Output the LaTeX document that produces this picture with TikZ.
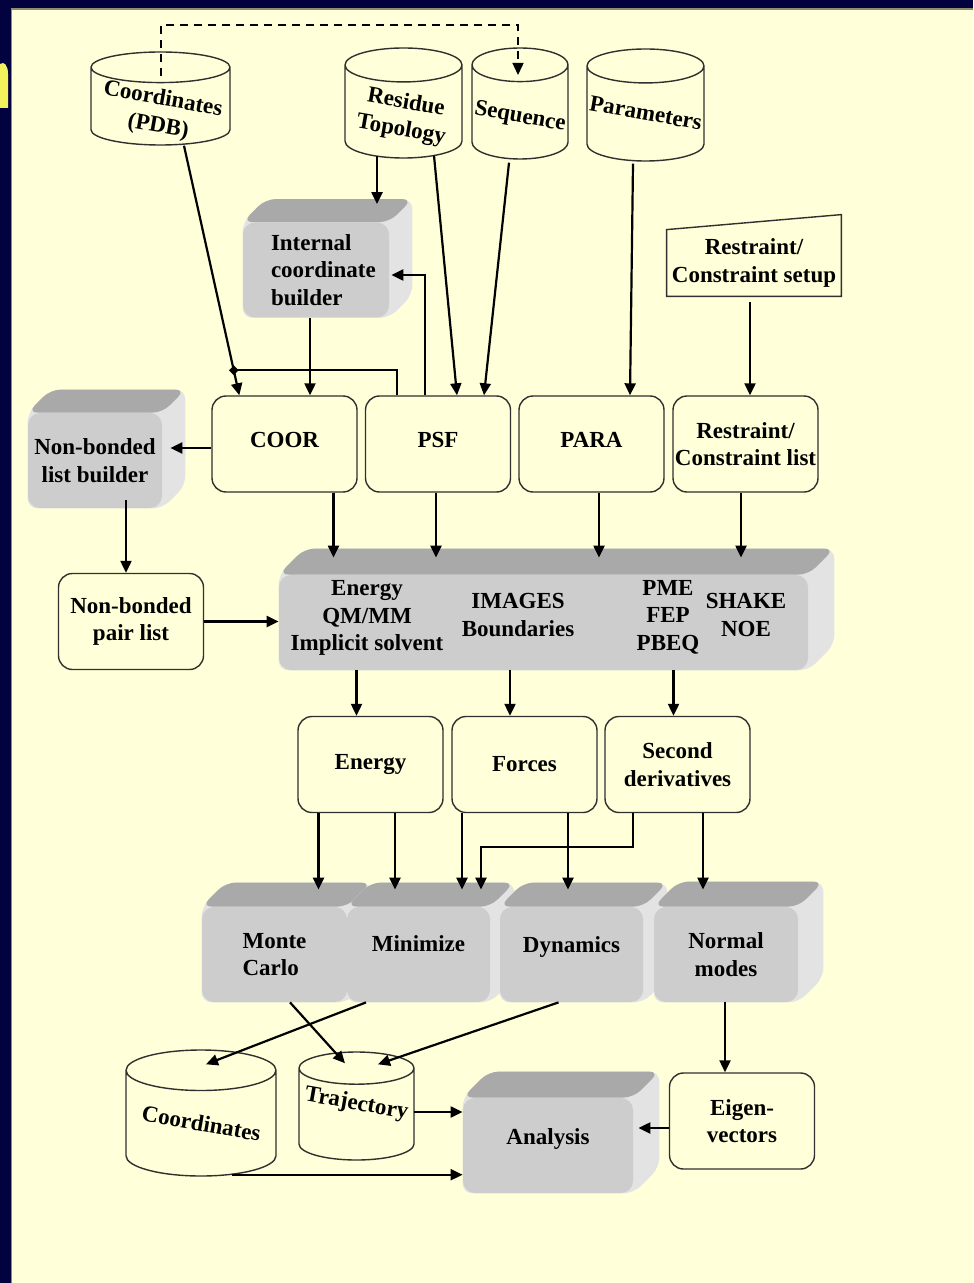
\documentclass[tikz,border=0pt]{standalone}
\usepackage{fontspec}
\setmainfont{Liberation Serif}
\usetikzlibrary{arrows.meta, calc, shapes.geometric, backgrounds}

\pgfdeclarelayer{canvas}
\pgfsetlayers{canvas,background,main}

\definecolor{paper}{HTML}{FFFFD9}
\definecolor{navy}{HTML}{02023F}
\definecolor{rimcol}{HTML}{8E8E6A}
\definecolor{titlecol}{HTML}{F2F25C}
\definecolor{frontgray}{HTML}{CDCDCD}
\definecolor{topgray}{HTML}{A9A9A9}
\definecolor{sidegray}{HTML}{E3E3E3}
\definecolor{edgecol}{HTML}{303030}

\tikzset{every node/.style={font=\bfseries\fontsize{11.5pt}{13.75pt}\selectfont}}
\tikzset{
  proc/.style={draw=edgecol, line width=0.7pt, rounded corners=7pt, fill=paper,
    minimum width=72.5pt, minimum height=48pt, inner sep=0pt, align=center},
  db/.style={cylinder, shape border rotate=90, aspect=0.28, draw=edgecol,
    line width=0.7pt, fill=paper, inner sep=0pt, anchor=shape center},
  box3d/.style={fill=frontgray, rounded corners=6pt, minimum height=47.5pt,
    inner sep=0pt, align=center},
  inbox/.style={minimum width=87pt, minimum height=33pt, inner sep=0pt, align=center},
  arr/.style={-{Triangle[length=6pt,width=5.5pt]}, line width=1.1pt},
  wire/.style={line width=1.1pt},
  jdot/.style={diamond, fill, inner sep=0pt, minimum size=5pt}
}

% tilted text inside a data store: [lowering]{width}{lines}
\newcommand{\dbtext}[3][-5pt]{\makebox[#2]{\raisebox{#1}[0pt][0pt]{\rotatebox[origin=c]{-10}{\begin{tabular}{@{}c@{}}#3\end{tabular}}}}}
% one line of text set a little higher
\newcommand{\lift}[2]{\raisebox{#1}[\height][\depth]{#2}}

% top and side faces of a grey block
\newcommand{\boxback}[2]{%
  \fill[sidegray, rounded corners=5pt] (#1.north west) -- ++(#2,-#2)
    -- ($(#1.north east)+(#2,-#2)$) -- ($(#1.south east)+(#2,-#2)$)
    -- (#1.south east) -- (#1.south west) -- cycle;
  \fill[topgray, rounded corners=5pt] (#1.north west) -- ++(#2,-#2)
    -- ($(#1.north east)+(#2,-#2)$) -- (#1.north east) -- cycle;
}

\begin{document}
\begin{tikzpicture}[x=0.5pt, y=-0.5pt]
  \path[use as bounding box] (0,0) rectangle (973,1283);

  % Slide frame.
  \begin{pgfonlayer}{canvas}
    \fill[paper] (0,0) rectangle (973,1283);
    \fill[navy] (0,0) rectangle (973,8);
    \fill[navy] (0,0) rectangle (11,1283);
    \draw[rimcol, line width=0.6pt] (11.5,1283) -- (11.5,9) -- (973,9);
    \fill[titlecol] (0,64) .. controls (4,61) and (8,65) .. (8,74) -- (8,108) -- (0,108) -- cycle;
  \end{pgfonlayer}

  % Data stores.
  \node[db, aspect=0.22, minimum width=69.5pt, minimum height=46.5pt] (pdb) at (160.5,98.5) {\dbtext[-6.5pt]{69.5pt}{Coordinates\\(PDB)}};
  \node[db, aspect=0.29, minimum width=58.5pt, minimum height=55pt] (topo) at (403.5,103) {\dbtext[-5.5pt]{58.5pt}{Residue\\Topology}};
  \node[db, aspect=0.35, minimum width=48pt, minimum height=55.5pt] (seq) at (520,103.5) {\dbtext[-5.5pt]{48pt}{Sequence}};
  \node[db, aspect=0.29, minimum width=58.5pt, minimum height=56pt] (params) at (645.5,105) {\dbtext[-3.5pt]{58.5pt}{Parameters}};
  \node[db, aspect=0.27, minimum width=75pt, minimum height=63pt] (coords) at (201,1113) {\dbtext[-4pt]{75pt}{Coordinates}};
  \node[db, aspect=0.28, minimum width=57.5pt, minimum height=54pt] (traj) at (356.5,1106) {\dbtext[2pt]{57.5pt}{Trajectory}};

  % Manual input.
  \node[inbox] (setup) at (754,263) {Restraint/\\Constraint setup};
  \draw[draw=edgecol, line width=0.7pt] (setup.south west) -- (setup.south east)
    -- ($(setup.north east)+(0,-15)$) -- (setup.north west) -- cycle;

  % Data boxes.
  \node[proc] (coor) at (284.5,444) {\lift{2pt}{COOR}};
  \node[proc] (psf) at (438,444) {\lift{2pt}{PSF}};
  \node[proc] (para) at (591.5,444) {\lift{2pt}{PARA}};
  \node[proc] (rlist) at (745.5,444) {Restraint/\\Constraint list};
  \node[proc] (pairlist) at (131,621.5) {Non-bonded\\pair list};
  \node[proc] (energy) at (370.5,764.5) {Energy};
  \node[proc] (forces) at (524.5,764.5) {Forces};
  \node[proc] (second) at (677.5,764.5) {Second\\derivatives};
  \node[proc] (eigen) at (742,1121) {Eigen-\\vectors};

  % Grey blocks.
  \node[box3d, minimum width=73pt, text width=45pt, align=left] (icb) at (316,270) {Internal\\coordinate\\builder};
  \node[box3d, minimum width=67pt] (nblb) at (95,460.5) {Non-bonded\\list builder};
  \node[box3d, minimum width=264.5pt] (ebox) at (543.5,622.5) {};
  \node[box3d, minimum width=72.5pt, align=left] (mc) at (274.5,954.5) {Monte\\Carlo};
  \node[box3d, minimum width=71.5pt] (mini) at (418.5,954.5) {\lift{5.5pt}{Minimize}};
  \node[box3d, minimum width=71.5pt] (dyn) at (571.5,954.5) {\lift{4pt}{Dynamics}};
  \node[box3d, minimum width=72pt] (nm) at (726,954.5) {Normal\\modes};
  \node[box3d, minimum width=85pt] (ana) at (548,1145.5) {\lift{3.5pt}{Analysis}};

  \node[align=center] (ebt1) at (367,618) {Energy\\QM/MM\\Implicit solvent};
  \node[align=center] (ebt2) at (518,615) {IMAGES\\Boundaries};
  \node[align=center] (ebt3) at (668,617) {PME\\FEP\\PBEQ};
  \node[align=center] (ebt4) at (746,615) {SHAKE\\NOE};

  \begin{scope}[on background layer]
    \boxback{icb}{23}
    \boxback{nblb}{23}
    \boxback{ebox}{26}
    \boxback{mc}{24}
    \boxback{mini}{24}
    \boxback{dyn}{24}
    \boxback{nm}{25}
    \boxback{ana}{26}
  \end{scope}

  % Inputs.
  \draw[arr, dash pattern=on 4pt off 3pt, line width=0.75pt] ($(pdb.shape center)+(0.5,-22.5)$) -- ++(0,-51)
    -| ($(seq.shape center)+(-2,-28.5)$);
  \coordinate (pdbout) at ($(pdb.south)+(23.5,0)$);
  \coordinate (coorin) at ($(coor.north west)+(28,0)$);
  \coordinate (jn) at ($(pdbout)!0.9!(coorin)$);
  \draw[arr] (pdbout) -- (coorin);
  \draw[wire] ($(psf.north west)+(32,0)$) |- (jn);
  \node[jdot] (joint) at (jn) {};
  \draw[arr] ($(topo.south)+(-26.5,-3)$) -- ($(icb.north)+(61,-18)$);
  \draw[arr] ($(topo.south)+(30.5,-3)$) -- ($(psf.north)+(19,0)$);
  \draw[arr] ($(seq.south)+(-11,3)$) -- ($(psf.north)+(46,0)$);
  \draw[arr] ($(params.south)+(-12.5,2)$) -- ($(para.north)+(38.5,0)$);
  \draw[arr] ($(setup.south)+(-4,6)$) -- ($(rlist.north)+(4.5,0)$);
  \draw[arr] ($(psf.north west)+(60,0)$) |- ($(icb.east)+(2,5)$);
  \draw[arr] ($(icb.south)+(-6,0)$) -- ($(coor.north)+(25.5,0)$);
  \draw[arr] ($(coor.west)+(0,4)$) -- ($(nblb.east)+(8,-12.5)$);
  \draw[arr] ($(nblb.south)+(31,-8)$) -- ($(pairlist.north)+(-5,0)$);
  \draw[arr] (pairlist.east) -- (pairlist.east -| ebox.west);

  % Into the energy block.
  \coordinate (etop) at ($(ebox.north)+(0,-17)$);
  \coordinate (c1) at ($(coor.south)+(49,0)$);
  \coordinate (c2) at ($(psf.south)+(-2,0)$);
  \coordinate (c3) at ($(para.south)+(7.5,0)$);
  \coordinate (c4) at ($(rlist.south)+(-4.5,0)$);
  \draw[arr] (c1) -- (c1 |- etop);
  \draw[arr] (c2) -- (c2 |- etop);
  \draw[arr] (c3) -- (c3 |- etop);
  \draw[arr] (c4) -- (c4 |- etop);

  % Out of the energy block.
  \coordinate (e1) at ($(energy.north)+(-14,0)$);
  \coordinate (e2) at ($(forces.north)+(-14.5,0)$);
  \coordinate (e3) at ($(second.north)+(-4,0)$);
  \draw[arr] (ebox.south -| e1) -- (e1);
  \draw[arr] (ebox.south -| e2) -- (e2);
  \draw[arr] (ebox.south -| e3) -- (e3);

  % Into the methods.
  \coordinate (t1) at ($(mc.north)+(44,-17)$);
  \coordinate (t2) at ($(mini.north)+(-23.5,-17)$);
  \coordinate (t3) at ($(mini.north)+(43.5,-17)$);
  \coordinate (t4) at ($(mini.north)+(62.5,-17)$);
  \coordinate (t5) at ($(dyn.north)+(-3.5,-17)$);
  \coordinate (t6) at ($(nm.north)+(-23,-17)$);
  \draw[arr] (energy.south -| t1) -- (t1);
  \draw[arr] (energy.south -| t2) -- (t2);
  \draw[arr] (forces.south -| t3) -- (t3);
  \draw[arr] (forces.south -| t5) -- (t5);
  \draw[arr] ($(second.south)+(-44.5,0)$) -- ++(0,34) -| (t4);
  \draw[arr] (second.south -| t6) -- (t6);

  % Results.
  \draw[arr] ($(mc.south)+(15.5,0)$) -- ($(traj.north)+(-11.5,12)$);
  \draw[arr] ($(mini.south)+(-52.5,0)$) -- ($(coords.north)+(5,15)$);
  \draw[arr] ($(dyn.south)+(-13,0)$) -- ($(traj.north)+(21.5,13)$);
  \coordinate (v1) at ($(eigen.north)+(-17,0)$);
  \draw[arr] (nm.south -| v1) -- (v1);
  \coordinate (a1) at ($(traj.shape center)+(57.5,6)$);
  \coordinate (a2) at ($(coords.south)+(31,-2)$);
  \coordinate (a3) at ($(eigen.west)+(0,7)$);
  \draw[arr] (a1) -- (a1 -| ana.west);
  \draw[arr] (a2) -- (a2 -| ana.west);
  \draw[arr] (a3) -- ($(a3 -| ana.east)+(5,0)$);
\end{tikzpicture}
\end{document}
